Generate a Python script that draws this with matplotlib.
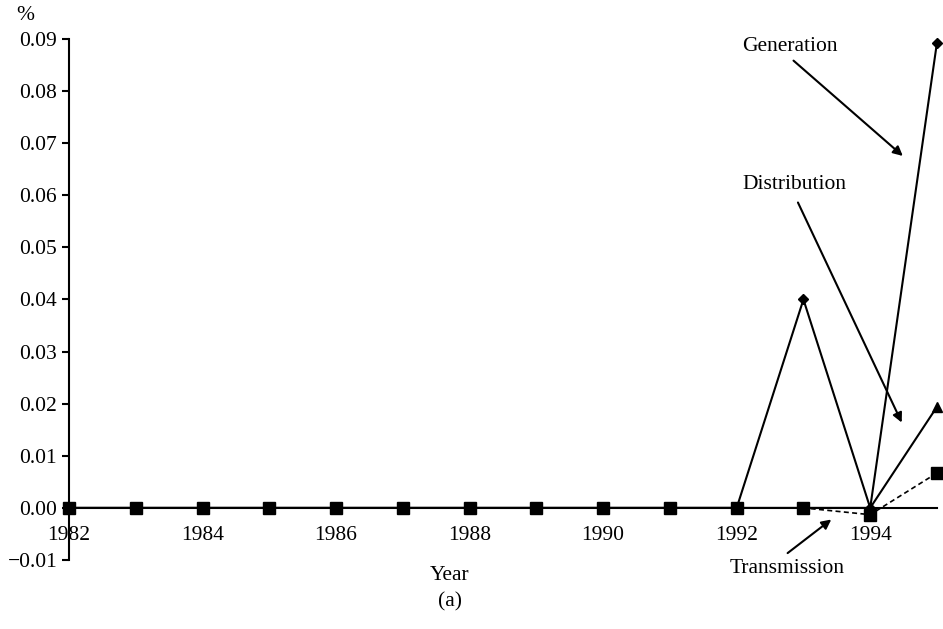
import matplotlib.pyplot as plt

plt.rcParams['font.family'] = ['Liberation Serif', 'DejaVu Serif']

years = list(range(1982, 1996))
generation = [0, 0, 0, 0, 0, 0, 0, 0, 0, 0, 0, 0.040, 0, 0.0893]
distribution = [0, 0, 0, 0, 0, 0, 0, 0, 0, 0, 0, 0, 0, 0.0194]
transmission = [0, 0, 0, 0, 0, 0, 0, 0, 0, 0, 0, 0, -0.0013, 0.0067]
year_labels = [str(y) for y in range(1982, 1996, 2)]

fs = 15.5

fig = plt.figure(figsize=(9.43, 6.29), dpi=100)
ax = fig.add_axes([0.0732, 0.1097, 0.9204, 0.8283])

ax.plot(years, generation, color='black', lw=1.5, marker='D', ms=5,
        clip_on=False, zorder=3)
ax.plot(years, distribution, color='black', lw=1.5, marker='^', ms=7,
        clip_on=False, zorder=3)
ax.plot(years, transmission, color='black', lw=1.2, ls=(0, (3, 2)),
        marker='s', ms=8, clip_on=False, zorder=4)

ax.set_xlim(1982, 1995)
ax.set_ylim(-0.01, 0.09)
ax.set_yticks([i / 100 for i in range(-1, 10)])
ax.set_yticklabels(['\u22120.01'] + ['%.2f' % (i / 100) for i in range(0, 10)])
ax.set_xticks(list(range(1982, 1996, 2)))
ax.set_xticklabels(year_labels)

ax.spines['top'].set_visible(False)
ax.spines['right'].set_visible(False)
ax.spines['bottom'].set_position(('data', 0))
ax.spines['left'].set_linewidth(1.5)
ax.spines['bottom'].set_linewidth(1.5)
ax.tick_params(axis='y', labelsize=fs, length=5, width=1.5)
ax.tick_params(axis='x', labelsize=fs, length=0, pad=13)

arrow = dict(arrowstyle='-|>', color='black', lw=1.5, mutation_scale=14)
ax.text(1992.80, 0.0885, 'Generation', fontsize=fs, ha='center', va='center')
ax.annotate('', xy=(1994.52, 0.0672), xytext=(1992.82, 0.0862),
            arrowprops=arrow, annotation_clip=False)
ax.text(1992.86, 0.0620, 'Distribution', fontsize=fs, ha='center', va='center')
ax.annotate('', xy=(1994.49, 0.0159), xytext=(1992.90, 0.0591),
            arrowprops=arrow, annotation_clip=False)
ax.text(1992.75, -0.0116, 'Transmission', fontsize=fs, ha='center', va='center')
ax.annotate('', xy=(1993.45, -0.0019), xytext=(1992.73, -0.0090),
            arrowprops=arrow, annotation_clip=False)

fig.text(450 / 943, 1 - 575 / 629, 'Year', fontsize=fs, ha='center', va='center')
fig.text(450 / 943, 1 - 602 / 629, '(a)', fontsize=fs, ha='center', va='center')
fig.text(25 / 943, 1 - 15 / 629, '%', fontsize=fs, ha='center', va='center')

fig.savefig('out.png', dpi=100)
